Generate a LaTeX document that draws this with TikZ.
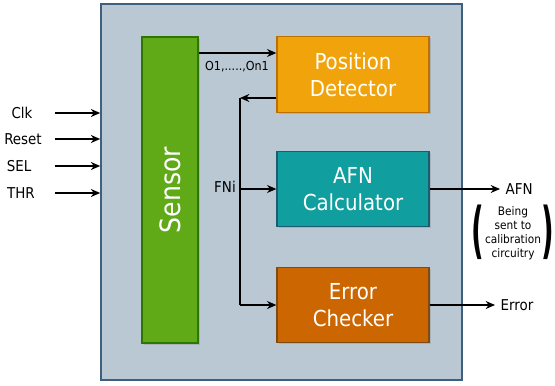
\documentclass[tikz,border=0pt]{standalone}
\usepackage{fontspec}
\setmainfont{DejaVu Sans Condensed}
\usetikzlibrary{shadows,arrows.meta}
\definecolor{panelfill}{HTML}{BAC8D3}
\definecolor{paneldraw}{HTML}{3F5F7F}
\definecolor{sensfill}{HTML}{60A917}
\definecolor{sensdraw}{HTML}{2D7600}
\definecolor{pdfill}{HTML}{F0A30A}
\definecolor{pddraw}{HTML}{BD7000}
\definecolor{afnfill}{HTML}{109E9E}
\definecolor{afndraw}{HTML}{1D5B70}
\definecolor{ecfill}{HTML}{CC6600}
\definecolor{ecdraw}{HTML}{7F4A14}
\begin{document}
\begin{tikzpicture}[x=0.75pt,y=-0.75pt,
    every node/.style={inner sep=0pt},
    blk/.style={draw,line width=1pt,text=white,align=center,minimum width=114pt,minimum height=56.5pt,
        font=\fontsize{16.5}{20}\selectfont,
        drop shadow={opacity=0.3,shadow xshift=1.2pt,shadow yshift=-1.2pt}},
    lbl/.style={font=\fontsize{11.2}{13}\selectfont},
    par/.style={font=\fontsize{46}{46}\selectfont\bfseries},
    sig/.style={-{Stealth[length=7pt,width=6pt]},line width=1pt}
]
\useasboundingbox (0,0) rectangle (555,385);

% outer block
\node[draw=paneldraw,fill=panelfill,line width=1.2pt,minimum width=270.75pt,minimum height=282pt] (panel) at (281.5,192) {};

% inner blocks
\node[blk,fill=sensfill,draw=sensdraw,minimum width=42pt,minimum height=229.5pt] (sensor) at (170,190) {\rotatebox{90}{\fontsize{21}{24}\selectfont Sensor}};
\node[blk,fill=pdfill,draw=pddraw] (pd)  at (353,74.5) {Position\\Detector};
\node[blk,fill=afnfill,draw=afndraw] (afn) at (353,189) {AFN\\Calculator};
\node[blk,fill=ecfill,draw=ecdraw] (ec)  at (353,305) {Error\\Checker};

% inputs
\node[lbl] (clk)   at (22,113) {Clk};
\node[lbl] (reset) at (23,139) {Reset};
\node[lbl] (sel)   at (19,166) {SEL};
\node[lbl] (thr)   at (21,193) {THR};
\coordinate (inx) at (55,0);
\foreach \n in {clk,reset,sel,thr}
    \draw[sig] (\n -| inx) -- (\n -| panel.west);

% sensor to detector
\coordinate (obus) at (198,53);
\draw[sig] (obus -| sensor.east) -- (obus -| pd.west);
\node[lbl,font=\fontsize{9.3}{11}\selectfont] (olbl) at (237,67) {O1,.....,On1};

% feedback bus
\coordinate (fbtop) at (240,98);
\coordinate (fbbot) at (240,305);
\draw[sig] (fbtop -| pd.west) -- (fbtop);
\draw[line width=1pt] (fbtop) -- (fbbot);
\draw[sig] (fbtop |- afn) -- (afn);
\draw[sig] (fbbot) -- (fbbot -| ec.west);
\node[lbl,anchor=east] (fni) at (236,187) {FNi};

% outputs
\node[lbl,anchor=west,inner xsep=4pt] (afnout) at (500,189) {AFN};
\node[lbl,anchor=west,inner xsep=4pt] (errout) at (495,305) {Error};
\draw[sig] (afn) -- (afnout);
\draw[sig] (ec) -- (errout);
\node[align=center,font=\fontsize{8.8}{10.5}\selectfont] (note) at (513,233) {Being\\sent to\\calibration\\circuitry};
\node[par] (lpar) at (477.5,232) {\scalebox{0.5}[1]{(}};
\node[par] (rpar) at (548,232) {\scalebox{0.5}[1]{)}};
\end{tikzpicture}
\end{document}
